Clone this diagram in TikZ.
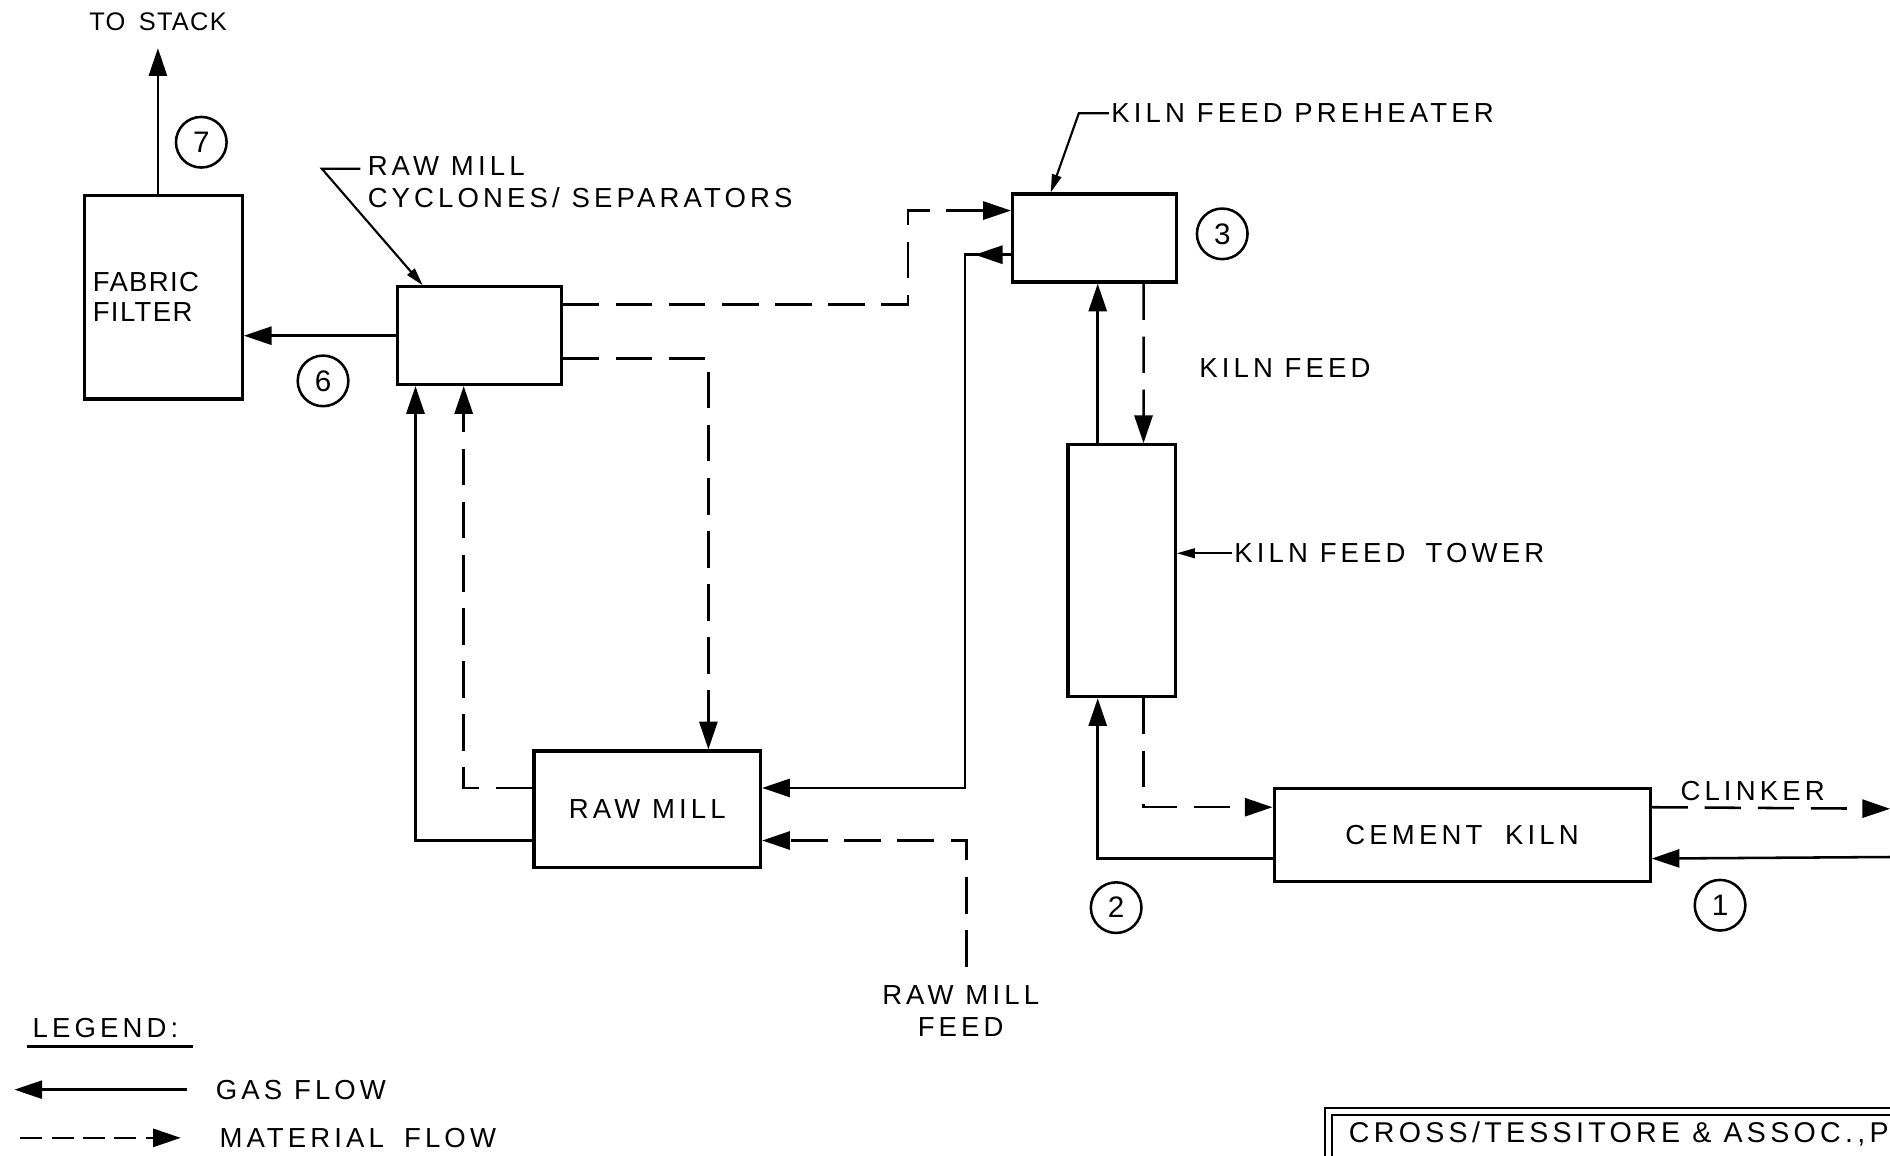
\documentclass[tikz,border=0pt]{standalone}
\usepackage{fontspec}
\setmainfont{Liberation Sans}[LetterSpace=15]
\newfontfamily\tightfont{Liberation Sans}[LetterSpace=5]
\usepackage{tikz}
\usetikzlibrary{positioning,arrows.meta,calc,decorations.markings}
\tikzset{
  unit/.style={draw, line width=1.5pt, inner sep=0pt, align=center,
               font=\fontsize{13}{15}\selectfont},
  gas/.style={-{Triangle[length=0.46cm, width=0.3cm]}, line width=1.2pt},
  mat/.style={gas, dash pattern=on 0.6cm off 0.28cm},
  lead/.style={-{Triangle[length=0.3cm, width=0.16cm]}, line width=1pt},
  lbl/.style={font=\fontsize{13}{15}\selectfont, align=left, inner sep=1pt},
  num/.style={circle, draw, line width=1.2pt, minimum size=0.84cm, inner sep=0pt,
              font=\fontsize{14}{15}\selectfont},
  midarrow/.style={postaction={decorate}, decoration={markings,
              mark=at position #1 with {\arrow{Triangle[length=0.46cm, width=0.3cm]}}}},
}
\begin{document}
\begin{tikzpicture}[x=0.02cm, y=-0.02cm]
\clip (0,0) rectangle (1568,959);
% process units
\node[unit, minimum width=2.62cm, minimum height=3.38cm, text width=2.34cm, align=left,
      font=\tightfont\fontsize{13}{14}\selectfont] (filter) at (135.5,246.5) {FABRIC\\FILTER};
\node[unit, minimum width=2.72cm, minimum height=1.62cm] (cyclone) at (398,278.5) {};
\node[unit, minimum width=2.72cm, minimum height=1.46cm] (pre) at (908,197.5) {};
\node[unit, minimum width=1.78cm, minimum height=4.18cm] (tower) at (930.5,473.5) {};
\node[unit, minimum width=3.76cm, minimum height=1.94cm] (mill) at (537,671.5) {RAW MILL};
\node[unit, minimum width=6.24cm, minimum height=1.54cm] (kiln) at (1213,692.5) {CEMENT \hspace{0.4em}KILN};

% stream numbers
\node[num] (n7) at (167,118) {7};
\node[num] (n6) at (268,316) {6};
\node[num] (n3) at (1014,194) {3};
\node[num] (n2) at (926,753) {2};
\node[num] (n1) at (1427,751) {1};

% labels
\node[lbl, font=\tightfont\fontsize{12}{13}\selectfont, anchor=west] (tostack) at (72,18) {TO \hspace{0.2em}STACK};
\node[lbl, anchor=west] (cyclab) at (303,151) {RAW MILL\\CYCLONES/ SEPARATORS};
\node[lbl, anchor=west] (prelab) at (920,94) {KILN FEED PREHEATER};
\node[lbl, anchor=west] (towlab) at (1022,459) {KILN FEED \hspace{0.3em}TOWER};
\node[lbl] (kfeed) at (1066,305) {KILN FEED};
\node[lbl, align=center] (feed) at (797,839) {RAW MILL\\FEED};
\node[lbl] (clinker) at (1454,656) {CLINKER};

\coordinate (stack) at (131,40);
\coordinate (cycbend) at (267,140);
\coordinate (prebend) at (895,94);
\coordinate (clk) at (1568,671);
\coordinate (air) at (1568,711);

% leaders
\draw[lead] ($(cyclab.west)+(-4,-11)$) -- (cycbend) -- ($(cyclone.north west)+(22,0)$);
\draw[lead] (prelab.west) -- (prebend) -- ($(pre.north west)+(33,0)$);
\draw[lead] (towlab.west) -- (towlab.west -| tower.east);

% gas flow
\draw[gas] (filter.north -| stack) -- (stack);
\draw[gas] (cyclone.west) -- (cyclone.west -| filter.east);
\draw[gas] ($(mill.south west)+(0,-24)$) -| ($(cyclone.south west)+(16,0)$);
\draw[gas, midarrow=0.6cm] ($(pre.south west)+(0,-24)$) -- ++(-38,0) |- ($(mill.north east)+(0,32)$);
\draw[gas] ($(tower.north west)+(26,0)$) coordinate (tg) -- (tg |- pre.south);
\draw[gas] ($(kiln.south west)+(0,-20)$) -| ($(tower.south west)+(26,0)$);
\draw[gas] (air) -- ($(kiln.south east)+(0,-20)$);

% material flow
\draw[mat] ($(cyclone.north east)+(0,16)$) -- ++(286,0) |- ($(pre.north west)+(0,15)$);
\draw[mat] ($(cyclone.south east)+(0,-23)$) -| ($(mill.north west)+(146,0)$);
\draw[mat] ($(mill.north west)+(0,32)$) -| ($(cyclone.south west)+(56,0)$);
\draw[mat] ($(feed.north)+(5,-14)$) |- ($(mill.south east)+(0,-24)$);
\draw[mat] ($(pre.south west)+(110,0)$) -- ($(tower.north west)+(64,0)$);
\draw[mat] ($(tower.south west)+(64,0)$) |- ($(kiln.north west)+(0,17)$);
\draw[mat] ($(kiln.north east)+(0,17)$) -- (clk);

% legend
\node[lbl, anchor=west] (legend) at (25,853) {LEGEND:};
\draw[line width=1.4pt] ([xshift=-0.06cm, yshift=-0.1cm]legend.south west) -- ([xshift=0.2cm, yshift=-0.1cm]legend.south east);
\node[lbl, anchor=west] (gaslab) at (177,904) {GAS FLOW};
\node[lbl, anchor=west] (matlab) at (180,944) {MATERIAL \hspace{0.3em}FLOW};
\coordinate (g0) at (12,904);
\coordinate (m0) at (17,944);
\draw[gas] ($(gaslab.west)+(-22,0)$) -- (g0);
\draw[mat, dash pattern=on 0.36cm off 0.16cm] (m0) -- ($(matlab.west)+(-30,0)$);

% title block
\node[draw, double, line width=1pt, double distance=0.08cm, minimum width=12cm,
      minimum height=2cm, anchor=north west] (tblock) at (1101,921) {};
\node[lbl, anchor=west, font=\fontsize{13.5}{15}\selectfont] (title) at (1117,941) {CROSS/TESSITORE \& ASSOC.,P};
\end{tikzpicture}
\end{document}
